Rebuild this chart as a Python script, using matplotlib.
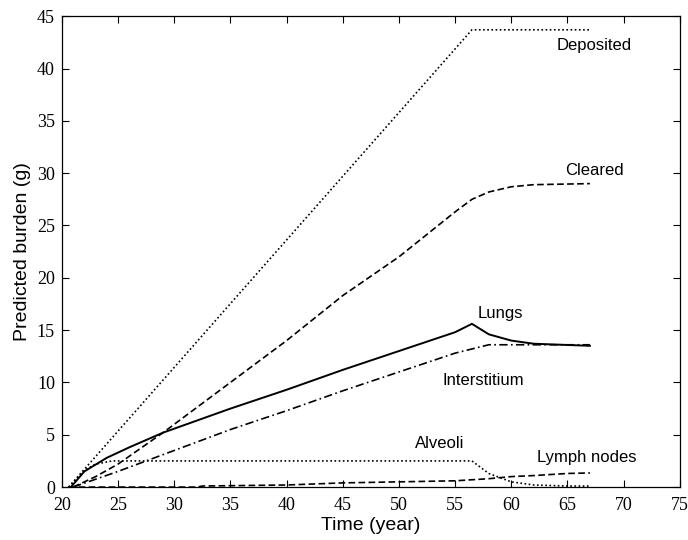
import matplotlib
matplotlib.use("Agg")
import matplotlib.pyplot as plt

dep_x = [20.6, 56.5, 67.0]
dep_y = [0.0, 43.7, 43.7]

clr_x = [21.0, 23, 25, 29, 35, 40, 45, 50, 55, 56.5, 58, 60, 62, 67]
clr_y = [0.0, 1.0, 2.2, 5.2, 10.0, 14.0, 18.3, 22.0, 26.3, 27.5, 28.2, 28.7, 28.9, 29.0]

lung_x = [20.8, 22, 24, 26, 29, 35, 40, 45, 50, 55, 56.5, 58, 60, 62, 67]
lung_y = [0.0, 1.5, 2.8, 3.8, 5.2, 7.5, 9.3, 11.2, 13.0, 14.8, 15.6, 14.6, 14.0, 13.7, 13.5]

int_x = [21.0, 25, 30, 35, 40, 45, 50, 55, 58, 67]
int_y = [0.0, 1.5, 3.5, 5.5, 7.3, 9.2, 11.0, 12.8, 13.6, 13.6]

alv_x = [20.6, 22, 23, 24.5, 56.5, 58, 60, 62, 65, 67]
alv_y = [0.0, 1.6, 2.2, 2.5, 2.5, 1.3, 0.5, 0.2, 0.1, 0.1]

lym_x = [20.6, 32, 32.5, 40, 45, 50, 55, 58, 60, 62, 65, 67]
lym_y = [0.0, 0.0, 0.1, 0.2, 0.4, 0.5, 0.6, 0.8, 1.0, 1.1, 1.3, 1.35]

labels = ["Deposited", "Cleared", "Lungs", "Interstitium", "Alveoli", "Lymph nodes"]
label_x = [67.4, 67.4, 59.0, 57.5, 53.6, 66.7]
label_y = [42.2, 30.3, 16.6, 10.2, 4.2, 2.8]

xticks = [20, 25, 30, 35, 40, 45, 50, 55, 60, 65, 70, 75]
yticks = [0, 5, 10, 15, 20, 25, 30, 35, 40, 45]

fig = plt.figure(figsize=(6.88, 5.4), dpi=100)
ax = fig.add_axes([0.090, 0.098, 0.898, 0.872])

ax.plot(dep_x, dep_y, color="black", ls=(0, (1, 1.5)), lw=1.2)
ax.plot(clr_x, clr_y, color="black", ls=(0, (4, 2)), lw=1.2)
ax.plot(lung_x, lung_y, color="black", ls="-", lw=1.4)
ax.plot(int_x, int_y, color="black", ls=(0, (5, 2, 1, 2)), lw=1.2)
ax.plot(alv_x, alv_y, color="black", ls=(0, (1, 1.5)), lw=1.2)
ax.plot(lym_x, lym_y, color="black", ls=(0, (4, 2)), lw=1.2)

for t, x, y in zip(labels, label_x, label_y):
    ax.text(x, y, t, ha="center", va="center", fontsize=12, family="Liberation Sans")

ax.set_xlim(20, 75)
ax.set_ylim(0, 45)
ax.set_xticks(xticks)
ax.set_yticks(yticks)
ax.set_xticklabels([str(v) for v in xticks], family="Liberation Serif", fontsize=13)
ax.set_yticklabels([str(v) for v in yticks], family="Liberation Serif", fontsize=13)
ax.tick_params(direction="in", top=True, right=True, length=5, width=0.8)
ax.tick_params(axis="x", pad=7)
ax.tick_params(axis="y", pad=5)
ax.set_xlabel("Time (year)", family="Liberation Sans", fontsize=14, labelpad=2)
ax.set_ylabel("Predicted burden (g)", family="Liberation Sans", fontsize=14, labelpad=4)
for s in ax.spines.values():
    s.set_linewidth(0.9)

fig.savefig("out.png", dpi=100)
